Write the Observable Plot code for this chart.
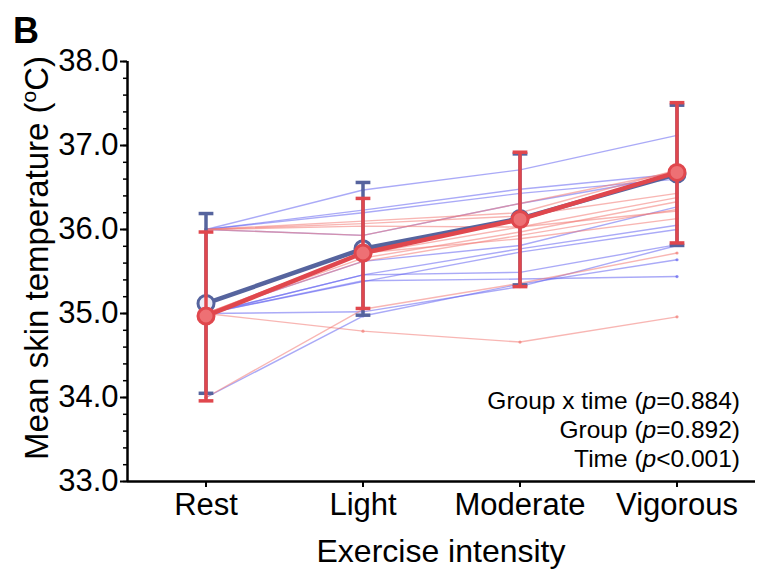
<!DOCTYPE html>
<html><head><meta charset="utf-8">
<script src="https://cdn.jsdelivr.net/npm/d3@7"></script>
<script src="https://cdn.jsdelivr.net/npm/@observablehq/plot@0.6"></script>
<style>body{margin:0;background:#fff;} #chart{width:758px;height:574px;}</style>
</head><body><div id="chart"></div>
<script>
// ---- data ----
const stages = ["Rest", "Light", "Moderate", "Vigorous"];
const yTicks = [33, 34, 35, 36, 37, 38];

// group means and error bar ends (mean ± SD)
const blueMean = [35.12, 35.77, 36.13, 36.66];
const blueLow  = [34.05, 34.98, 35.34, 35.81];
const blueHigh = [36.19, 36.56, 36.90, 37.48];
const redMean  = [34.97, 35.72, 36.12, 36.68];
const redLow   = [33.96, 35.06, 35.32, 35.84];
const redHigh  = [35.97, 36.37, 36.92, 37.51];

// individual participants (Rest, Light, Moderate, Vigorous)
const blueSubjects = [
  [36.0, 36.47, 36.71, 37.12],
  [36.0, 36.23, 36.48, 36.66],
  [36.0, 36.20, 36.43, 36.60],
  [36.0, 35.93, 36.31, 36.64],
  [35.0, 35.62, 35.81, 36.27],
  [35.0, 35.46, 35.77, 36.05],
  [35.0, 35.38, 35.73, 36.00],
  [35.0, 35.46, 35.49, 35.82],
  [35.0, 35.39, 35.41, 35.44],
  [35.0, 35.02, 35.32, 35.81],
  [34.0, 34.97, 35.35, 35.64]
];
const redSubjects = [
  [36.0, 36.10, 36.20, 36.71],
  [36.0, 36.07, 36.16, 36.43],
  [36.0, 35.93, 36.31, 36.69],
  [35.0, 35.71, 36.03, 36.38],
  [35.0, 35.66, 35.97, 36.33],
  [35.0, 35.62, 35.93, 36.24],
  [35.0, 35.72, 35.89, 36.13],
  [34.0, 35.05, 35.36, 35.72],
  [35.0, 34.79, 34.66, 34.96],
  [36.0, 36.04, 36.03, 36.22]
];

const statLabels = ["Group x time", "Group", "Time"];
const statValues = ["=0.884", "=0.892", "<0.001"];

// ---- styling ----
const BLUE = "#56649e";
const RED = "#e0474d";
const BLUE_THIN = "#6464f0";
const RED_THIN = "#f27a74";
const FONT = "'Liberation Sans', Arial, sans-serif";

// ---- build tables ----
const indiv = [];
blueSubjects.forEach((vals, k) => vals.forEach((v, i) => indiv.push({id: "b" + k, i, v, color: BLUE_THIN})));
redSubjects.forEach((vals, k) => vals.forEach((v, i) => indiv.push({id: "r" + k, i, v, color: RED_THIN})));
const blueRows = stages.map((s, i) => ({i, m: blueMean[i], lo: blueLow[i], hi: blueHigh[i]}));
const redRows = stages.map((s, i) => ({i, m: redMean[i], lo: redLow[i], hi: redHigh[i]}));
const minorTicks = d3.range(33, 38.001, 0.2).map(d => +d.toFixed(1));
const capW = 0.047;

function groupMarks(rows, color, dotFill, dotStroke) {
  return [
    Plot.ruleX(rows, {x: "i", y1: "lo", y2: "hi", stroke: color, strokeWidth: 3.5}),
    Plot.link(rows, {x1: d => d.i - capW, x2: d => d.i + capW, y1: "hi", y2: "hi", stroke: color, strokeWidth: 3.5}),
    Plot.link(rows, {x1: d => d.i - capW, x2: d => d.i + capW, y1: "lo", y2: "lo", stroke: color, strokeWidth: 3.5}),
    Plot.line(rows, {x: "i", y: "m", stroke: color, strokeWidth: 4.5}),
    Plot.dot(rows, {x: "i", y: "m", r: 8, fill: dotFill, stroke: dotStroke, strokeWidth: 3})
  ];
}

const svg = Plot.plot({
  width: 758, height: 574,
  marginLeft: 127, marginRight: 3, marginTop: 61, marginBottom: 93,
  style: {fontFamily: FONT, background: "white", color: "black"},
  x: {domain: [-0.5, 3.5]},
  y: {domain: [33, 38]},
  marks: [
    Plot.axisY({ticks: minorTicks, tickSize: 4, tickFormat: () => "", label: null, strokeWidth: 1.5}),
    Plot.axisY({ticks: yTicks, tickSize: 7, tickPadding: 2, tickFormat: d => d.toFixed(1), fontSize: 31, label: null, strokeWidth: 2}),
    Plot.axisX({ticks: [0, 1, 2, 3], tickFormat: i => stages[i], tickSize: 6, tickPadding: 5, fontSize: 31, label: null, strokeWidth: 2}),
    Plot.ruleY([33], {strokeWidth: 2.5}),
    Plot.ruleX([-0.5], {strokeWidth: 2.5}),
    Plot.line(indiv, {x: "i", y: "v", z: "id", stroke: "color", strokeOpacity: 0.55, strokeWidth: 1.4}),
    Plot.dot(indiv, {x: "i", y: "v", r: 1.6, fill: "color", fillOpacity: 0.7}),
    ...groupMarks(blueRows, BLUE, "#eceef7", BLUE),
    ...groupMarks(redRows, RED, "#ee7074", RED)
  ]
});

const s = d3.select(svg);
// panel letter
s.append("text").attr("x", 26).attr("y", 43).attr("font-size", 36).attr("font-weight", "bold")
  .attr("font-family", FONT).text("B");
// y label with superscript o
const yl = s.append("text").attr("transform", "translate(36,258) rotate(-90)")
  .attr("text-anchor", "middle").attr("dy", "0.36em").attr("font-size", 33)
  .attr("font-family", FONT);
yl.append("tspan").text("Mean skin temperature (");
yl.append("tspan").attr("font-size", 21).attr("dy", -12).text("o");
yl.append("tspan").attr("dy", 12).text("C)");
// x label
s.append("text").attr("x", 441).attr("y", 562).attr("text-anchor", "middle").attr("font-size", 32)
  .attr("font-family", FONT).text("Exercise intensity");
// stats annotation
statLabels.forEach((lab, k) => {
  const t = s.append("text").attr("x", 740).attr("y", 409 + k * 29).attr("text-anchor", "end")
    .attr("font-size", 24.5).attr("font-family", FONT);
  t.append("tspan").text(lab + " (");
  t.append("tspan").attr("font-style", "italic").text("p");
  t.append("tspan").text(statValues[k] + ")");
});

document.getElementById("chart").appendChild(svg);
</script>
</body></html>
